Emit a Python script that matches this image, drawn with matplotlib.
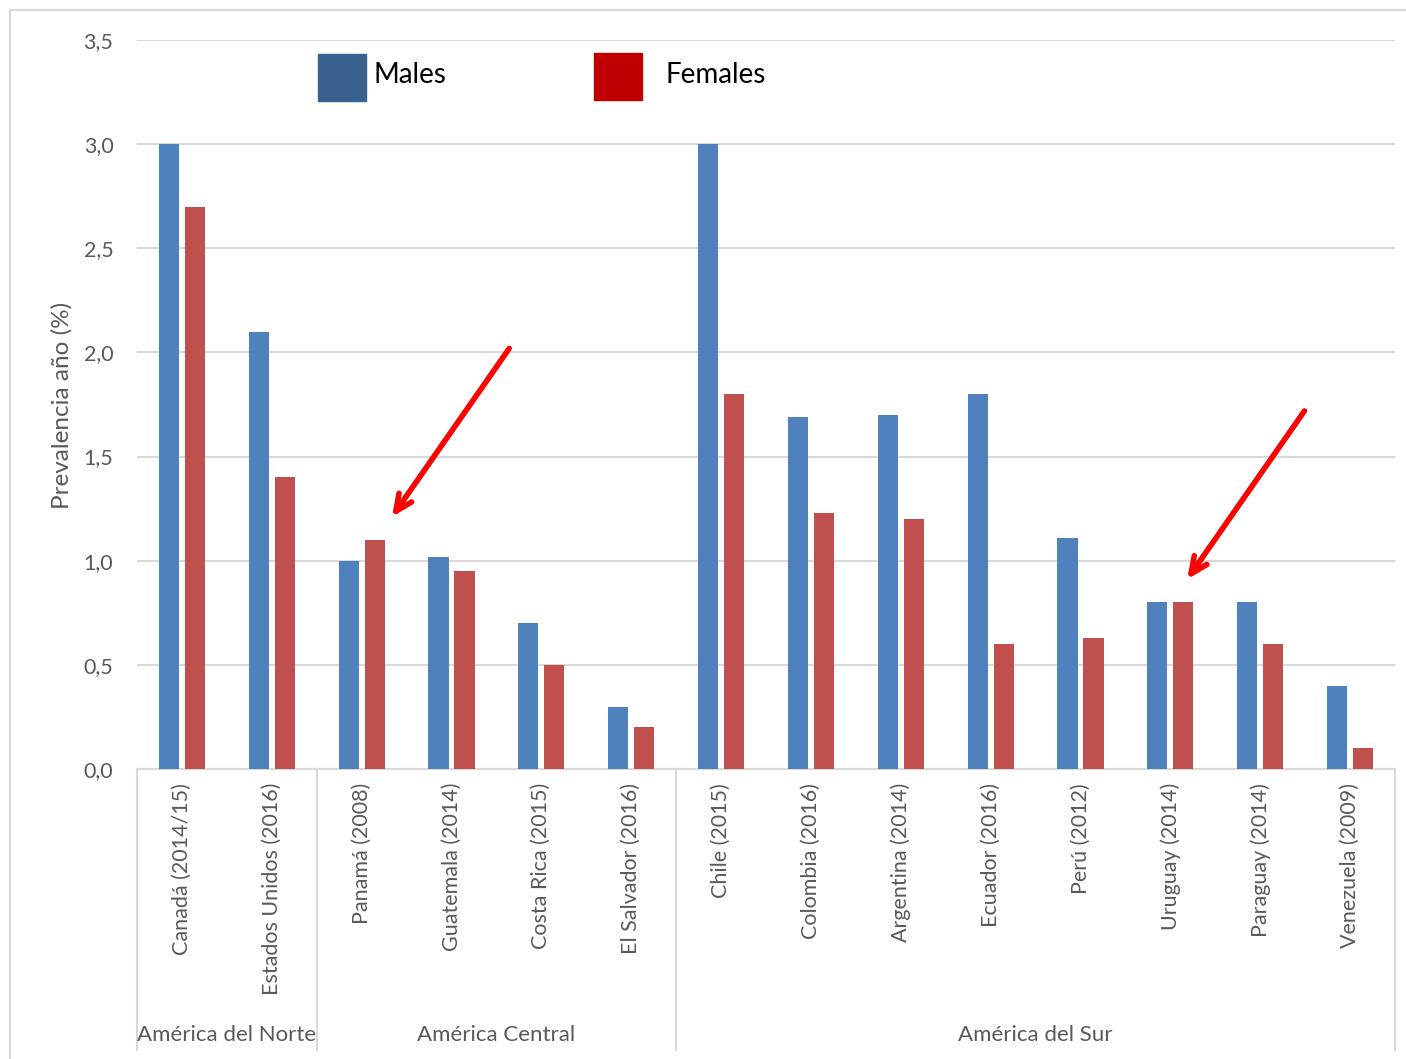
import matplotlib
matplotlib.use("Agg")
from matplotlib import pyplot as plt
from matplotlib.patches import Rectangle
from matplotlib.lines import Line2D
import numpy as np

plt.rcParams['font.family'] = ['Lato', 'DejaVu Sans']

countries = ["Canadá (2014/15)", "Estados Unidos (2016)", "Panamá (2008)",
             "Guatemala (2014)", "Costa Rica (2015)", "El Salvador (2016)",
             "Chile (2015)", "Colombia (2016)", "Argentina (2014)",
             "Ecuador (2016)", "Perú (2012)", "Uruguay (2014)",
             "Paraguay (2014)", "Venezuela (2009)"]
males = [3.0, 2.1, 1.0, 1.02, 0.7, 0.3, 3.0, 1.69, 1.7, 1.8, 1.11, 0.8, 0.8, 0.4]
females = [2.7, 1.4, 1.1, 0.95, 0.5, 0.2, 1.8, 1.23, 1.2, 0.6, 0.63, 0.8, 0.6, 0.1]
regions = ["América del Norte", "América Central", "América del Sur"]
region_sizes = [2, 4, 8]

W, H = 1406, 1059
fig = plt.figure(figsize=(W / 100, H / 100), dpi=100)
ax = fig.add_axes([137 / W, 1 - 769 / H, (1395 - 137) / W, (769 - 40) / H])

grid_c = "#D9D9D9"
text_c = "#595959"
x = np.arange(len(countries))
bw = 0.225
ax.bar(x - 0.145, males, bw, color="#4F81BD", zorder=3)
ax.bar(x + 0.145, females, bw, color="#C0504D", zorder=3)

ax.set_xlim(-0.5, len(countries) - 0.5)
ax.set_ylim(0, 3.5)
ax.set_yticks(np.arange(0, 3.51, 0.5))
ax.set_yticklabels([f"{v:.1f}".replace(".", ",") for v in np.arange(0, 3.51, 0.5)])
ax.yaxis.grid(True, color=grid_c, lw=1.5, zorder=0)
ax.set_xticks(x)
ax.set_xticklabels(countries, rotation=90, va="top", ha="center")
ax.tick_params(axis="both", length=0, labelsize=15.5, colors=text_c)
ax.tick_params(axis="x", pad=10)
ax.tick_params(axis="y", pad=17)
for s in ["top", "right", "left"]:
    ax.spines[s].set_visible(False)
ax.spines["bottom"].set_color(grid_c)
ax.spines["bottom"].set_linewidth(1.5)

# region separators and labels below the axis
trans = ax.get_xaxis_transform()
y_low = (769 - 1050) / (769 - 40)
bounds = np.concatenate([[0], np.cumsum(region_sizes)]) - 0.5
for b in bounds:
    ax.add_line(Line2D([b, b], [0, y_low], transform=trans, color=grid_c,
                       lw=1.5, clip_on=False))
for name, a, b in zip(regions, bounds[:-1], bounds[1:]):
    ax.text((a + b) / 2, (769 - 1035) / (769 - 40), name, transform=trans,
            ha="center", va="center", fontsize=16, color=text_c)

fig.text(62 / W, 1 - 405 / H, "Prevalencia año (%)", rotation=90,
         ha="center", va="center", fontsize=17.5, color=text_c)

# legend
fig.patches.append(Rectangle((318 / W, 1 - 101 / H), 48 / W, 47 / H,
                             transform=fig.transFigure, color="#38618F"))
fig.text(374 / W, 1 - 75 / H, "Males", fontsize=20, va="center", color="black")
fig.patches.append(Rectangle((594 / W, 1 - 100 / H), 48 / W, 47 / H,
                             transform=fig.transFigure, color="#C00000"))
fig.text(665 / W, 1 - 75 / H, "Females", fontsize=20, va="center", color="black")

# arrows
for start, tip in [((3.66, 2.03), (2.32, 1.20)), ((12.51, 1.73), (11.17, 0.90))]:
    ax.annotate("", xy=tip, xytext=start,
                arrowprops=dict(arrowstyle="->,head_length=1.2,head_width=0.55",
                                color="#FF0000", lw=4), zorder=5)

# outer frame
fig.add_artist(Line2D([10 / W, 10 / W], [0, 1 - 10 / H], color=grid_c, lw=1.5))
fig.add_artist(Line2D([10 / W, 1], [1 - 10 / H, 1 - 10 / H], color=grid_c, lw=1.5))

fig.savefig("out.png", dpi=100)
